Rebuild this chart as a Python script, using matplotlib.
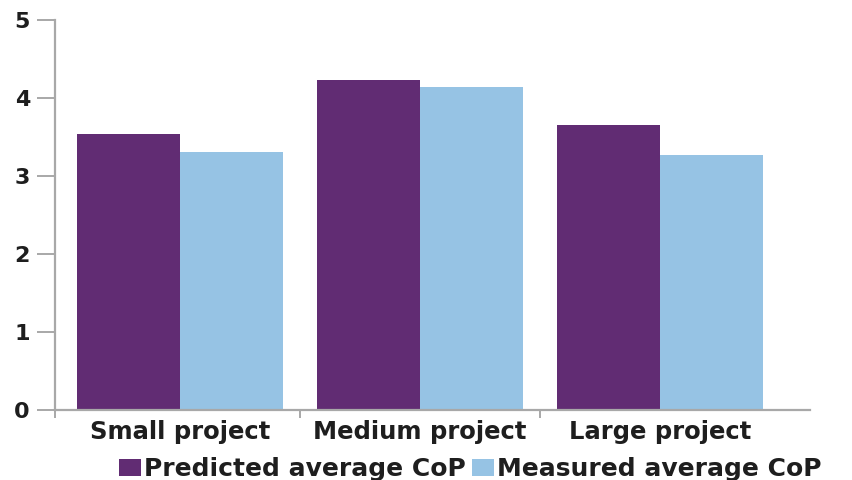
import matplotlib
matplotlib.use("Agg")
import matplotlib.pyplot as plt
import numpy as np

categories = ["Small project", "Medium project", "Large project"]
predicted = [3.54, 4.23, 3.65]
measured = [3.31, 4.14, 3.27]
series_names = ["Predicted average CoP", "Measured average CoP"]
yticks = [0, 1, 2, 3, 4, 5]

c_pred = "#612C73"
c_meas = "#96C3E4"
grey = "#A8A8A8"
txt = "#1E1E1E"

plt.rcParams['font.family'] = ['DejaVu Sans']

fig = plt.figure(figsize=(8.53, 4.80), dpi=100)
ax = fig.add_axes([55/853, 1-410/480, (810-55)/853, (410-20)/480])

x = np.arange(len(categories))
w = 0.43
ax.bar(x, predicted, width=-w, align='edge', color=c_pred, label=series_names[0])
ax.bar(x, measured, width=w, align='edge', color=c_meas, label=series_names[1])

ax.set_xlim(-0.52, 2.625)
ax.set_ylim(0, 5)
ax.set_yticks(yticks)
ax.set_yticklabels([str(t) for t in yticks], fontsize=16, fontweight='bold', color=txt)
ax.set_xticks(x)
ax.set_xticklabels(categories, fontsize=17.5, fontweight='bold', color=txt)
ax.set_xticks([-0.52, 0.5, 1.5], minor=True)

for s in ['top', 'right']:
    ax.spines[s].set_visible(False)
for s in ['left', 'bottom']:
    ax.spines[s].set_color(grey)
    ax.spines[s].set_linewidth(1.6)

ax.tick_params(axis='y', length=13, width=1.4, color=grey, pad=5)
ax.tick_params(axis='x', which='major', length=0, pad=7)
ax.tick_params(axis='x', which='minor', length=6, width=1.4, color=grey)

fig.legend(loc='center', bbox_to_anchor=(470/853, 1-469/480), ncol=2, frameon=False,
           prop={'size': 18, 'weight': 'bold'}, handlelength=0.9, handleheight=0.65,
           handletextpad=0.1, columnspacing=0.25, labelcolor=txt,
           borderpad=0, borderaxespad=0)

fig.savefig("out.png", dpi=100)
